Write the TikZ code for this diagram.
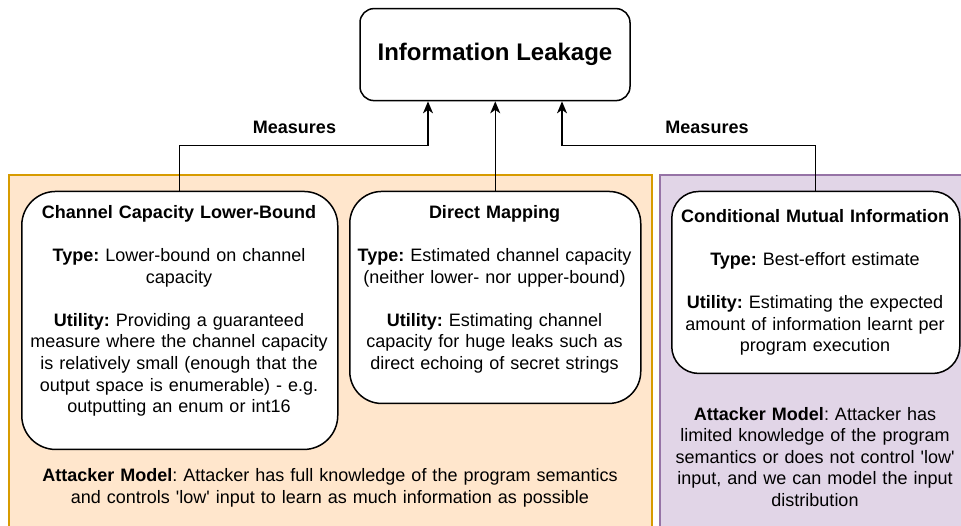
\documentclass[tikz,border=0pt]{standalone}
\usepackage{fontspec}
\setmainfont{Liberation Sans}
\usetikzlibrary{arrows.meta}
\frenchspacing
\definecolor{orfill}{HTML}{FFE6CC}
\definecolor{orline}{HTML}{D79B00}
\definecolor{pufill}{HTML}{E1D5E7}
\definecolor{puline}{HTML}{9673A6}
\tikzset{
  region/.style={rectangle, line width=1.5pt, inner sep=0pt, anchor=north west},
  card/.style={rectangle, draw=black, fill=white, line width=1.5pt, inner sep=0pt, anchor=north west},
  txt/.style={font=\frenchspacing\fontsize{18}{21.6}\selectfont, align=center, anchor=base, inner sep=0pt},
  lbl/.style={font=\bfseries\fontsize{18}{21.6}\selectfont, anchor=base, inner sep=0pt},
  conn/.style={line width=1.3pt, -{Stealth[length=12pt,width=10pt,inset=3.5pt]}},
}
\begin{document}
\begin{tikzpicture}[x=1pt,y=-1pt]
\useasboundingbox (0,0) rectangle (961,525);
% regions
\node[region, draw=orline, fill=orfill, minimum width=643pt, minimum height=366pt] (orng) at (8,174) {};
\node[region, draw=puline, fill=pufill, minimum width=330pt, minimum height=366pt] (purp) at (659,174) {};
% top node
\node[card, anchor=center, rounded corners=14pt, minimum width=270pt, minimum height=92pt,
      font=\bfseries\fontsize{24}{28}\selectfont] (top) at (495,54.6) {Information Leakage};
% cards
\node[card, rounded corners=34pt, minimum width=316pt, minimum height=258pt] (b1) at (21,190.7) {};
\node[card, rounded corners=32pt, minimum width=291pt, minimum height=212pt] (b2) at (349,190.7) {};
\node[card, rounded corners=27pt, minimum width=288pt, minimum height=182pt] (b3) at (671,190.7) {};
% card texts
\node[txt, text width=340pt] (t1) at (179,218.3) {\textbf{Channel Capacity Lower-Bound}\\[21.6pt]
  \textbf{Type:} Lower-bound on channel\\ capacity\\[21.6pt]
  \textbf{Utility:} Providing a guaranteed\\ measure where the channel capacity\\ is relatively small (enough that the\\ output space is enumerable) - e.g.\\ outputting an enum or int16};
\node[txt, text width=320pt] (t2) at (494.5,218.3) {\textbf{Direct Mapping}\\[21.6pt]
  \textbf{Type:} Estimated channel capacity\\ (neither lower- nor upper-bound)\\[21.6pt]
  \textbf{Utility:} Estimating channel\\ capacity for huge leaks such as\\ direct echoing of secret strings};
\node[txt, text width=320pt] (t3) at (815,222) {\textbf{Conditional Mutual Information}\\[21.6pt]
  \textbf{Type:} Best-effort estimate\\[21.6pt]
  \textbf{Utility:} Estimating the expected\\ amount of information learnt per\\ program execution};
% attacker models
\node[txt, text width=640pt] (a1) at (330,481.7) {\textbf{Attacker Model}: Attacker has full knowledge of the program semantics\\ and controls \textquotesingle low\textquotesingle{} input to learn as much information as possible};
\node[txt, text width=300pt] (a2) at (815,420) {\textbf{Attacker Model}: Attacker has\\ limited knowledge of the program\\ semantics or does not control \textquotesingle low\textquotesingle\\ input, and we can model the input\\ distribution};
% labels
\node[lbl] (m1) at (294.5,133.3) {Measures};
\node[lbl] (m2) at (707,133.3) {Measures};
% connectors
\coordinate (j1) at (428,145.7);
\coordinate (j3) at (562,145.7);
\draw[conn] (b1.north) |- (j1) -- (j1 |- top.south);
\draw[conn] (b2.north) -- (b2.north |- top.south);
\draw[conn] (b3.north) |- (j3) -- (j3 |- top.south);
\end{tikzpicture}
\end{document}
